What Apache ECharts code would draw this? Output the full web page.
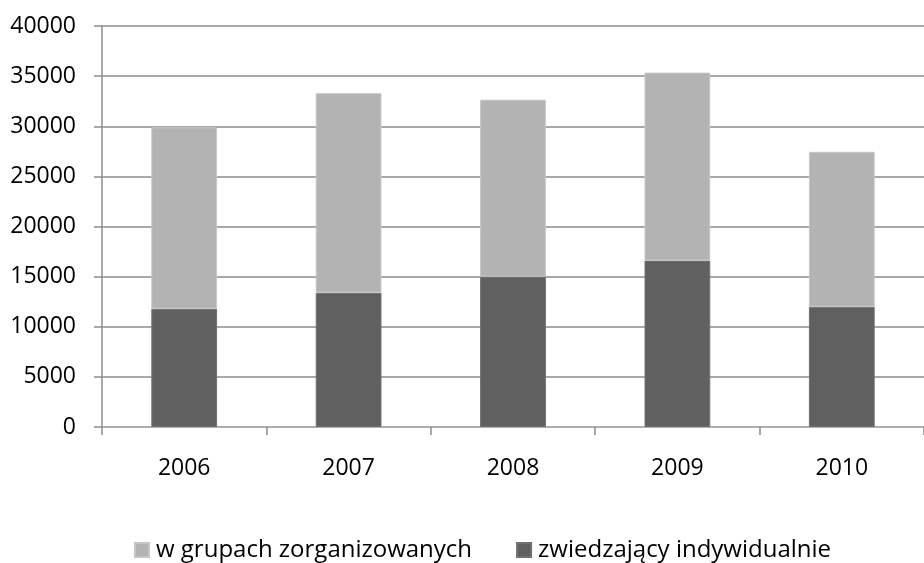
<!DOCTYPE html>
<html>
<head>
<meta charset="utf-8">
<script src="https://cdn.jsdelivr.net/npm/echarts@6/dist/echarts.min.js"></script>
<style>
html,body{margin:0;padding:0;background:#fff;}
#chart{width:924px;height:563px;}
</style>
</head>
<body>
<div id="chart"></div>
<script>
const categories = ['2006', '2007', '2008', '2009', '2010'];
const individual = [11800, 13400, 15000, 16600, 12000];
const groups = [18100, 19900, 17650, 18750, 15450];
const seriesNames = ['w grupach zorganizowanych', 'zwiedzający indywidualnie'];

const chart = echarts.init(document.getElementById('chart'));
const font = '"Open Sans", sans-serif';
chart.setOption({
  animation: false,
  backgroundColor: '#ffffff',
  textStyle: { fontFamily: font },
  grid: { left: 102, top: 26, width: 828, height: 401, containLabel: false },
  legend: {
    data: seriesNames,
    top: 533,
    left: 129,
    icon: 'rect',
    itemWidth: 14,
    itemHeight: 14,
    itemGap: 44,
    textStyle: { fontSize: 24, color: '#000', fontFamily: font, padding: [0, 0, 0, 2] }
  },
  xAxis: {
    type: 'category',
    data: categories,
    axisLine: { show: true, lineStyle: { color: '#b0b0b0', width: 1.5 } },
    axisTick: { show: true, length: 8, lineStyle: { color: '#8c8c8c', width: 1.5 } },
    axisLabel: { fontSize: 23, color: '#000', margin: 30, fontFamily: font },
    splitLine: { show: false }
  },
  yAxis: {
    type: 'value',
    min: 0,
    max: 40000,
    interval: 5000,
    axisLine: { show: true, lineStyle: { color: '#8c8c8c', width: 1.5 } },
    axisTick: { show: true, length: 8, lineStyle: { color: '#8c8c8c', width: 1.5 } },
    axisLabel: { fontSize: 23, color: '#000', margin: 26, fontFamily: font, formatter: function (v) { return String(v); } },
    splitLine: { show: true, lineStyle: { color: '#8c8c8c', width: 1.5 } }
  },
  series: [
    {
      name: seriesNames[1],
      type: 'bar',
      stack: 'total',
      data: individual,
      barWidth: '40%',
      itemStyle: { color: '#606060', borderColor: '#707070', borderWidth: 1 }
    },
    {
      name: seriesNames[0],
      type: 'bar',
      stack: 'total',
      data: groups,
      barWidth: '40%',
      itemStyle: { color: '#b3b3b3', borderColor: '#c6c6c6', borderWidth: 1 }
    }
  ]
});
</script>
</body>
</html>
